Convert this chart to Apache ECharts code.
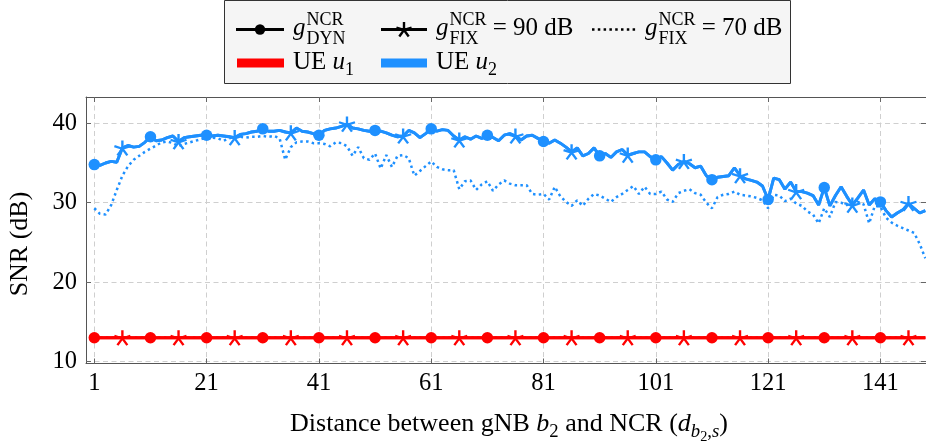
<!DOCTYPE html>
<html>
<head>
<meta charset="utf-8">
<script src="https://cdn.jsdelivr.net/npm/echarts@6/dist/echarts.min.js"></script>
<style>
  html, body { margin: 0; padding: 0; background: #fff; }
  #chart { width: 926px; height: 443px; }
</style>
</head>
<body>
<div id="chart"></div>
<script>
// Distance index between gNB b2 and the NCR
const distances = Array.from({ length: 149 }, (_, i) => i + 1);
const xTickValues = [1, 21, 41, 61, 81, 101, 121, 141];
const yTickValues = [10, 20, 30, 40];

// SNR (dB) of UE u1 — flat for every gain setting
const snrU1Dyn = [
  13.0, 13.0, 13.0, 13.0, 13.0, 13.0, 13.0, 13.0, 13.0, 13.0,
  13.0, 13.0, 13.0, 13.0, 13.0, 13.0, 13.0, 13.0, 13.0, 13.0,
  13.0, 13.0, 13.0, 13.0, 13.0, 13.0, 13.0, 13.0, 13.0, 13.0,
  13.0, 13.0, 13.0, 13.0, 13.0, 13.0, 13.0, 13.0, 13.0, 13.0,
  13.0, 13.0, 13.0, 13.0, 13.0, 13.0, 13.0, 13.0, 13.0, 13.0,
  13.0, 13.0, 13.0, 13.0, 13.0, 13.0, 13.0, 13.0, 13.0, 13.0,
  13.0, 13.0, 13.0, 13.0, 13.0, 13.0, 13.0, 13.0, 13.0, 13.0,
  13.0, 13.0, 13.0, 13.0, 13.0, 13.0, 13.0, 13.0, 13.0, 13.0,
  13.0, 13.0, 13.0, 13.0, 13.0, 13.0, 13.0, 13.0, 13.0, 13.0,
  13.0, 13.0, 13.0, 13.0, 13.0, 13.0, 13.0, 13.0, 13.0, 13.0,
  13.0, 13.0, 13.0, 13.0, 13.0, 13.0, 13.0, 13.0, 13.0, 13.0,
  13.0, 13.0, 13.0, 13.0, 13.0, 13.0, 13.0, 13.0, 13.0, 13.0,
  13.0, 13.0, 13.0, 13.0, 13.0, 13.0, 13.0, 13.0, 13.0, 13.0,
  13.0, 13.0, 13.0, 13.0, 13.0, 13.0, 13.0, 13.0, 13.0, 13.0,
  13.0, 13.0, 13.0, 13.0, 13.0, 13.0, 13.0, 13.0, 13.0
];
const snrU1Fix90 = snrU1Dyn;
const snrU1Fix70 = snrU1Dyn;

// SNR (dB) of UE u2 with dynamic NCR gain; the 90 dB fixed gain gives the same curve
const snrU2Dyn = [
  34.8, 34.7, 35.0, 35.2, 35.1, 36.9, 37.2, 37.0, 37.1, 37.6,
  38.3, 37.8, 37.9, 38.2, 38.4, 37.7, 38.2, 38.3, 38.4, 38.5,
  38.5, 38.4, 38.5, 38.4, 38.3, 38.2, 38.6, 38.7, 38.9, 39.0,
  39.3, 39.0, 39.0, 39.1, 38.9, 38.8, 39.4, 39.0, 38.9, 38.7,
  38.5, 39.1, 39.3, 39.4, 39.6, 39.9, 39.4, 39.3, 39.1, 39.0,
  39.1, 39.0, 38.8, 38.5, 38.3, 38.4, 39.1, 38.8, 38.2, 38.7,
  39.3, 39.0, 39.2, 39.1, 38.4, 37.9, 38.3, 38.0, 38.4, 38.1,
  38.5, 38.2, 37.8, 38.5, 38.7, 38.4, 37.9, 38.4, 38.5, 38.1,
  37.7, 37.5, 37.9, 37.5, 37.0, 36.4, 36.9, 35.9, 36.2, 36.9,
  35.9, 36.2, 35.7, 36.4, 36.7, 36.0, 36.2, 36.4, 36.4, 35.8,
  35.4, 35.8, 35.0, 34.1, 34.8, 35.2, 34.9, 34.4, 34.6, 33.4,
  32.9, 33.2, 33.3, 33.4, 34.4, 33.4, 33.0, 32.8, 32.6, 32.1,
  30.4, 33.1, 32.9, 31.7, 32.6, 31.4, 31.4, 31.2, 30.9, 29.7,
  31.9, 29.6, 30.9, 32.0, 30.8, 29.7, 30.6, 31.6, 29.7, 30.5,
  30.1, 29.0, 28.2, 28.7, 29.1, 29.9, 29.3, 28.7, 29.0
];
const snrU2Fix90 = snrU2Dyn;

// SNR (dB) of UE u2 with the NCR gain fixed at 70 dB
const snrU2Fix70 = [
  29.3, 28.6, 28.5, 29.7, 31.6, 33.4, 34.6, 35.4, 35.9, 36.4,
  36.8, 37.2, 37.6, 37.7, 37.5, 37.1, 37.4, 37.6, 37.8, 38.0,
  38.2, 38.2, 38.1, 37.8, 38.1, 38.3, 38.3, 38.2, 38.3, 38.3,
  38.4, 38.3, 38.4, 38.1, 35.4, 37.0, 37.6, 37.7, 37.7, 37.5,
  37.5, 37.4, 37.1, 37.6, 37.5, 37.1, 35.9, 37.0, 35.6, 35.4,
  36.2, 34.3, 36.0, 34.5, 35.9, 36.0, 35.6, 33.4, 34.0, 34.6,
  35.2, 34.5, 34.2, 34.1, 34.1, 31.7, 32.7, 32.8, 31.6, 32.3,
  32.7, 31.5, 32.3, 32.8, 32.4, 32.2, 32.2, 32.2, 31.1, 31.0,
  31.1, 30.4, 32.0, 30.8, 30.1, 29.6, 30.3, 29.6, 30.5, 31.1,
  30.9, 30.5, 30.1, 30.7, 31.1, 31.6, 32.1, 31.1, 32.0, 31.1,
  31.1, 31.4, 30.4, 30.1, 31.2, 31.5, 31.7, 31.2, 31.0, 30.0,
  29.3, 30.7, 31.0, 31.1, 31.4, 31.0, 30.9, 30.8, 30.6, 30.3,
  29.3, 31.0, 30.9, 30.2, 30.5, 29.9, 29.6, 28.9, 28.5, 27.4,
  29.3, 28.2, 30.1, 30.0, 29.7, 29.9, 30.1, 29.8, 27.4, 29.6,
  29.5, 28.1, 27.5, 27.1, 26.8, 26.5, 26.2, 24.8, 23.0
];

const RED = '#ff0000';
const BLUE = '#1e90ff';
const FONT = '"Liberation Serif", "Times New Roman", serif';
const STAR = 'path://M0,-10L0,0M9.51,-3.09L0,0M5.88,8.09L0,0M-5.88,8.09L0,0M-9.51,-3.09L0,0';
const MARK_EVERY = 10;

const pairs = (vals) => distances.map((d, i) => [d, vals[i]]);
const markAt = (offset, shape) => (value, params) =>
  (params.dataIndex % MARK_EVERY === offset ? shape : 'none');

function solidSeries(name, vals, color, offset, shape) {
  const isStar = shape === STAR;
  return {
    name, type: 'line', data: pairs(vals),
    symbol: markAt(offset, shape),
    symbolSize: isStar ? [16, 15] : 11.5,
    lineStyle: { color, width: 2.9 },
    itemStyle: isStar ? { color, borderColor: color, borderWidth: 2.3 } : { color, borderWidth: 0 },
    z: 3, silent: true
  };
}
function dottedSeries(name, vals, color) {
  return {
    name, type: 'line', data: pairs(vals), symbol: 'none',
    lineStyle: { color, width: 2.5, type: [2.5, 3.3] },
    z: 2, silent: true
  };
}

// ---- math-like text built from measured runs ----
const mctx = document.createElement('canvas').getContext('2d');
const fontOf = (size, italic) => (italic ? 'italic ' : '') + size + 'px ' + FONT;
function measure(str, size, italic) { mctx.font = fontOf(size, italic); return mctx.measureText(str).width; }
function textEl(str, x, baseline, size, italic) {
  return {
    type: 'text', x: x, y: baseline - 0.34 * size, silent: true, z: 20,
    style: { text: str, font: fontOf(size, italic), fill: '#000',
             align: 'left', verticalAlign: 'middle', textAlign: 'left', textVerticalAlign: 'middle' }
  };
}
function runsWidth(runs, size) {
  let w = 0;
  for (const r of runs) {
    if (r.stack) w += Math.max(...r.stack.map(p => measure(p.t, size * p.s, p.it)));
    else w += measure(r.t, size * (r.s || 1), r.it) + (r.kern || 0) * size;
  }
  return w;
}
function layoutRuns(runs, x, baseline, size) {
  const els = []; let cx = x;
  for (const r of runs) {
    if (r.stack) {
      let w = 0;
      for (const p of r.stack) {
        const s = size * p.s;
        els.push(textEl(p.t, cx, baseline + p.dy * size, s, p.it));
        w = Math.max(w, measure(p.t, s, p.it));
      }
      cx += w;
    } else {
      const s = size * (r.s || 1);
      els.push(textEl(r.t, cx, baseline + (r.dy || 0) * size, s, r.it));
      cx += measure(r.t, s, r.it) + (r.kern || 0) * size;
    }
  }
  return els;
}
// five-armed asterisk drawn from line pieces
function starEls(cx, cy, r, color, width) {
  const els = [];
  for (const a of [90, 18, -54, -126, 162]) {
    const rad = a * Math.PI / 180;
    els.push({ type: 'line', silent: true, z: 12,
      shape: { x1: cx, y1: cy, x2: cx + r * Math.cos(rad), y2: cy - r * Math.sin(rad) },
      style: { stroke: color, lineWidth: width } });
  }
  return els;
}

const LEG = 25;
const gStack = (sub) => [
  { t: 'g', it: true, kern: 0.04 },
  { stack: [ { t: 'NCR', s: 0.72, dy: -0.42 }, { t: sub, s: 0.72, dy: 0.32 } ] }
];
const legendGraphics = [];
legendGraphics.push({ type: 'rect', shape: { x: 224.5, y: 0.5, width: 566, height: 83 },
  style: { fill: '#f5f5f5', stroke: '#333', lineWidth: 1 }, z: 10, silent: true });
// row 1 samples
legendGraphics.push({ type: 'line', shape: { x1: 236, y1: 29.5, x2: 284, y2: 29.5 },
  style: { stroke: '#000', lineWidth: 2.8 }, z: 11, silent: true });
legendGraphics.push({ type: 'circle', shape: { cx: 260, cy: 29.5, r: 5.2 },
  style: { fill: '#000' }, z: 12, silent: true });
legendGraphics.push({ type: 'line', shape: { x1: 381, y1: 29.5, x2: 427, y2: 29.5 },
  style: { stroke: '#000', lineWidth: 2.8 }, z: 11, silent: true });
legendGraphics.push(...starEls(404, 30, 8, '#000', 2.4));
legendGraphics.push({ type: 'line', shape: { x1: 592, y1: 29.5, x2: 637, y2: 29.5 },
  style: { stroke: '#000', lineWidth: 2.5, lineDash: [2.5, 3.3] }, z: 11, silent: true });
// row 2 samples
legendGraphics.push({ type: 'rect', shape: { x: 237, y: 58.5, width: 47, height: 9 },
  style: { fill: RED }, z: 11, silent: true });
legendGraphics.push({ type: 'rect', shape: { x: 381, y: 58.5, width: 46, height: 9 },
  style: { fill: BLUE }, z: 11, silent: true });
// legend texts
legendGraphics.push(...layoutRuns(gStack('DYN'), 293, 37, LEG));
legendGraphics.push(...layoutRuns([...gStack('FIX'), { t: ' = 90 dB' }], 436, 37, LEG));
legendGraphics.push(...layoutRuns([...gStack('FIX'), { t: ' = 70 dB' }], 645, 37, LEG));
legendGraphics.push(...layoutRuns([{ t: 'UE ' }, { t: 'u', it: true }, { t: '1', s: 0.72, dy: 0.2 }], 293, 71, LEG));
legendGraphics.push(...layoutRuns([{ t: 'UE ' }, { t: 'u', it: true }, { t: '2', s: 0.72, dy: 0.2 }], 436, 71, LEG));

// x-axis title
const AX = 26;
const TICK = 24.5;
const xTitleRuns = [
  { t: 'Distance between gNB ' }, { t: 'b', it: true }, { t: '2', s: 0.72, dy: 0.2 },
  { t: ' and NCR (' }, { t: 'd', it: true }, { t: 'b', it: true, s: 0.72, dy: 0.2 },
  { t: '2', s: 0.55, dy: 0.34 }, { t: ',', s: 0.72, dy: 0.2 }, { t: 's', it: true, s: 0.72, dy: 0.2 },
  { t: ')' }
];
const xTitleW = runsWidth(xTitleRuns, AX);
const xTitleEls = layoutRuns(xTitleRuns, 509 - xTitleW / 2, 433, AX);

const tickLine = { show: true, inside: true, length: 5, lineStyle: { color: '#666', width: 1 } };
const axisLine = { show: true, onZero: false, lineStyle: { color: '#555', width: 1 } };
const gridDash = { show: true, lineStyle: { color: '#cfcfcf', width: 1, type: [5, 3.5] } };
const tickFont = { fontFamily: FONT, fontSize: TICK, color: '#000' };

const option = {
  animation: false,
  backgroundColor: '#fff',
  grid: { left: 86, right: 0, top: 97, bottom: 79.5, containLabel: false },
  xAxis: [
    { type: 'value', min: -0.48, max: 149.12, position: 'bottom',
      axisLine, axisTick: { ...tickLine, customValues: xTickValues },
      axisLabel: { ...tickFont, customValues: xTickValues, margin: 8 },
      splitLine: gridDash },
    { type: 'value', min: -0.48, max: 149.12, position: 'top',
      axisLine, axisTick: { ...tickLine, customValues: xTickValues },
      axisLabel: { show: false }, splitLine: { show: false } }
  ],
  yAxis: [
    { type: 'value', min: 9.75, max: 43.31, position: 'left',
      axisLine, axisTick: { ...tickLine, customValues: yTickValues },
      axisLabel: { ...tickFont, customValues: yTickValues, margin: 9 },
      splitLine: gridDash },
    { type: 'value', min: 9.75, max: 43.31, position: 'right',
      axisLine, axisTick: { ...tickLine, customValues: yTickValues },
      axisLabel: { show: false }, splitLine: { show: false } }
  ],
  series: [
    dottedSeries('u2 FIX 70 dB', snrU2Fix70, BLUE),
    dottedSeries('u1 FIX 70 dB', snrU1Fix70, RED),
    solidSeries('u2 DYN', snrU2Dyn, BLUE, 0, 'circle'),
    solidSeries('u2 FIX 90 dB', snrU2Fix90, BLUE, 5, STAR),
    solidSeries('u1 DYN', snrU1Dyn, RED, 0, 'circle'),
    solidSeries('u1 FIX 90 dB', snrU1Fix90, RED, 5, STAR)
  ],
  graphic: [
    ...legendGraphics,
    ...xTitleEls,
    { type: 'text', x: 20, y: 244, rotation: Math.PI / 2, silent: true,
      style: { text: 'SNR (dB)', font: fontOf(AX, false), fill: '#000',
               align: 'center', verticalAlign: 'middle', textAlign: 'center', textVerticalAlign: 'middle' } }
  ]
};

const chart = echarts.init(document.getElementById('chart'), null, { renderer: 'canvas' });
chart.setOption(option);
</script>
</body>
</html>
